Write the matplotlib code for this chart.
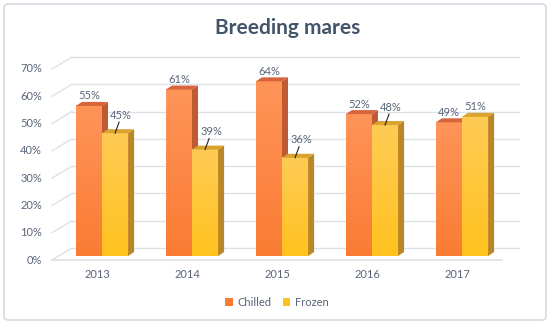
import numpy as np
import matplotlib
matplotlib.use("Agg")
import matplotlib.pyplot as plt
from matplotlib.colors import LinearSegmentedColormap
from matplotlib.patches import Polygon, Patch, FancyBboxPatch

plt.rcParams['font.family'] = ['Lato', 'DejaVu Sans']

# data
years = ['2013', '2014', '2015', '2016', '2017']
chilled = [55, 61, 64, 52, 49]
frozen = [45, 39, 36, 48, 51]
yticks = [0, 10, 20, 30, 40, 50, 60, 70]

# style
W, H = 550, 324
TXT = '#596579'
GRID = '#DCE1E8'
chilled_cols = dict(top='#FF9459', bottom='#FA7C33', side='#C05A33', cap='#D8643C')
frozen_cols = dict(top='#FFCB55', bottom='#FFC21F', side='#B98728', cap='#D9A32F')

fig = plt.figure(figsize=(W / 100, H / 100), dpi=100)
fig.patch.set_facecolor('white')
border = FancyBboxPatch((4 / W, 4 / H), 542 / W, 316 / H, boxstyle='round,pad=0,rounding_size=0.01',
                        transform=fig.transFigure, fc='none', ec='#D6DCE4', lw=1.2)
fig.patches.append(border)

# axes spanning the bar plane (pixel 57..507 wide, 0%..70% = 256..65 px)
ax = fig.add_axes([57 / W, (H - 256) / H, 450 / W, 191 / H])
ax.set_axis_off()
PX = 1 / 90.0          # one pixel in x data units
PY = 70 / 191.0        # one pixel in y data units

n = len(years)
x0, x1 = -0.5, n - 0.5
front = (-5 * PX, -4 * PY)
back = (15 * PX, 8 * PY)
back_right = x1 + 12 * PX

# walls / gridlines
for v in yticks:
    ax.plot([x0 + front[0], x0 + back[0]], [v + front[1], v + back[1]], color=GRID, lw=1, zorder=1,
            clip_on=False)
    ax.plot([x0 + back[0], back_right], [v + back[1]] * 2, color=GRID, lw=1, zorder=1, clip_on=False)
    ax.text(x0 + front[0] - 10 * PX, v + front[1], f'{v}%', ha='right', va='center', fontsize=8,
            color=TXT)
ax.plot([x0 + front[0], x1 + front[0]], [front[1]] * 2, color=GRID, lw=1.2, zorder=1, clip_on=False)

for i, y in enumerate(years):
    ax.text(i + front[0], -19 * PY, y, ha='center', va='center', fontsize=8, color=TXT)

bw = 0.29
dX, dY = 6 * PX, 4 * PY


def bar3d(left, val, cols):
    right = left + bw
    cmap = LinearSegmentedColormap.from_list('g', [cols['bottom'], cols['top']])
    grad = np.linspace(0, 1, 128).reshape(-1, 1)
    ax.imshow(grad, extent=[left, right, 0, val], origin='lower', aspect='auto', cmap=cmap, zorder=3)
    ax.add_patch(Polygon([(right, 0), (right + dX, dY), (right + dX, val + dY), (right, val)],
                         closed=True, fc=cols['side'], ec='none', zorder=3))
    ax.add_patch(Polygon([(left, val), (right, val), (right + dX, val + dY), (left + dX, val + dY)],
                         closed=True, fc=cols['cap'], ec='none', zorder=3))


for i in range(n):
    bar3d(i - bw, chilled[i], chilled_cols)
    bar3d(i, frozen[i], frozen_cols)

for i in range(n):
    cx = i - bw / 2
    ax.text(cx, chilled[i] + 10 * PY, f'{chilled[i]}%', ha='center', va='center', fontsize=8,
            color=TXT, zorder=5)
    fx = i + bw / 2
    if frozen[i] < chilled[i]:
        lx, ly = fx + 6 * PX, frozen[i] + 18 * PY
        ax.plot([fx, lx - 2 * PX], [frozen[i], ly - 7 * PY], color='#222222', lw=0.8, zorder=5)
        ax.text(lx, ly, f'{frozen[i]}%', ha='center', va='center', fontsize=8, color=TXT, zorder=5)
    else:
        ax.text(fx, frozen[i] + 10 * PY, f'{frozen[i]}%', ha='center', va='center', fontsize=8,
                color=TXT, zorder=5)

ax.set_xlim(x0, x1)
ax.set_ylim(0, 70)

fig.text(288 / W, 1 - 28 / H, 'Breeding mares', ha='center', va='center', fontsize=15,
         fontweight='bold', color='#44546A')

handles = [Patch(fc=chilled_cols['bottom'], ec='none'), Patch(fc=frozen_cols['bottom'], ec='none')]
fig.legend(handles, ['Chilled', 'Frozen'], loc='center', bbox_to_anchor=(277 / W, 1 - 302 / H),
           ncol=2, frameon=False, fontsize=8, handlelength=0.7, handleheight=0.7,
           handletextpad=0.4, columnspacing=1.0, labelcolor=TXT)

fig.savefig('out.png', dpi=100)
